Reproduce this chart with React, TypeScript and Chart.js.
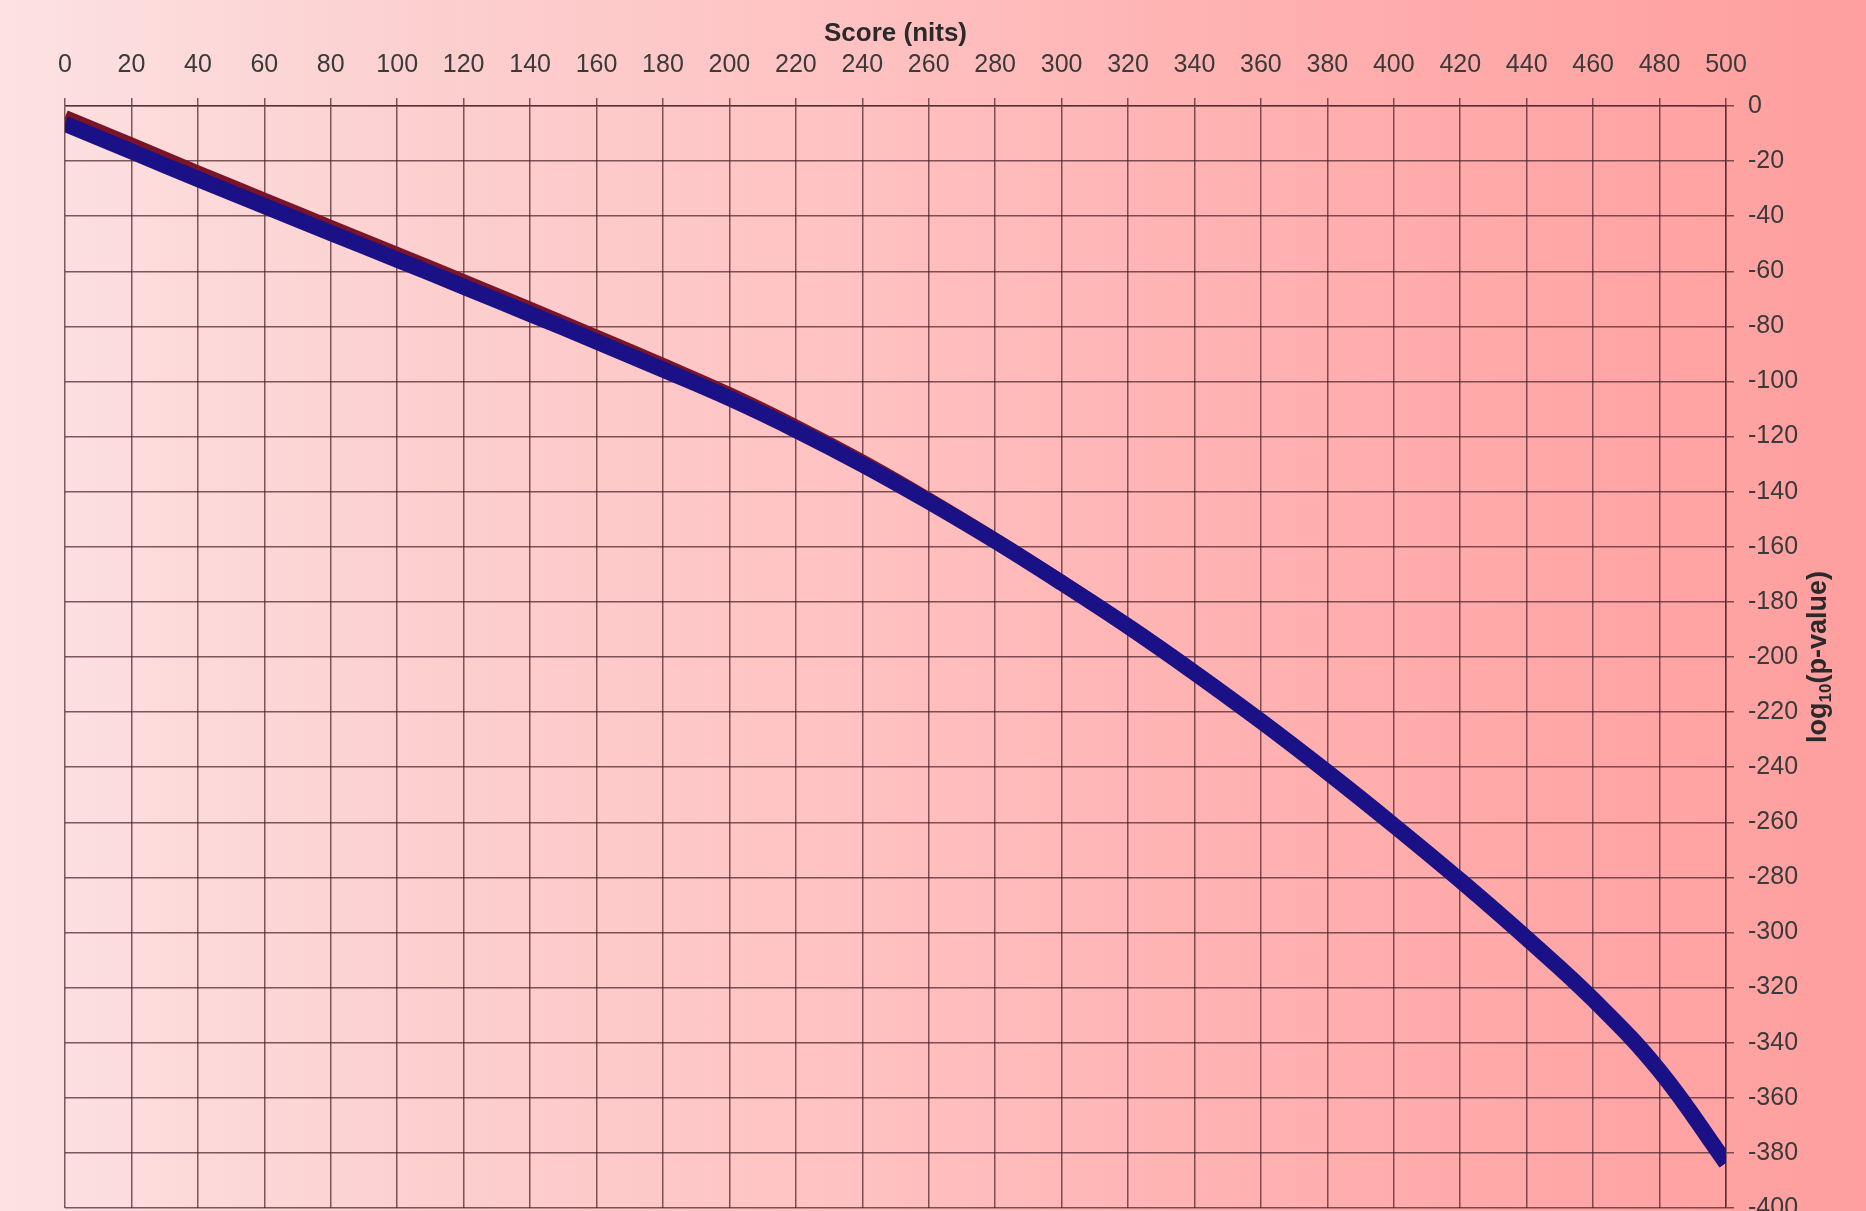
import React, { useEffect, useRef } from "react";
import { Chart, registerables } from "chart.js";

Chart.register(...registerables);

// Score (nits) sample positions
const scores = [0, 20, 40, 60, 80, 100, 120, 140, 160, 180, 200, 220, 240, 260, 280, 300, 320, 340, 360, 380, 400, 420, 440, 460, 480, 500];
// log10(p-value), blue series (lower edge of the band)
const blueValues = [-6.5, -16.5, -26.5, -36.3, -46.1, -55.8, -65.6, -75.5, -85.5, -95.7, -106.1, -117.6, -130.1, -143.6, -157.9, -173.1, -188.9, -205.7, -223.3, -241.8, -261.1, -281.1, -302.1, -324.3, -350.2, -383.6];
// log10(p-value), dark red series (slightly above the blue one)
const redValues = [-4.0, -14.0, -24.1, -34.0, -43.9, -53.7, -63.6, -73.6, -83.7, -94.0, -104.6, -116.3, -129.0, -142.8, -157.4, -172.7, -188.6, -205.5, -223.2, -241.8, -261.1, -281.1, -302.1, -324.3, -350.2, -383.6];

const xTitle = "Score (nits)";
const yTitleMain = "log";
const yTitleSub = "10";
const yTitleRest = "(p-value)";

const FONT = '"Liberation Sans", Arial, Helvetica, sans-serif';

const yTitlePlugin = {
  id: "yTitleLeftRotated",
  afterDraw(chart: any) {
    const ctx = chart.ctx as CanvasRenderingContext2D;
    const area = chart.chartArea;
    const cx = area.right + 91;
    const cy = (area.top + area.bottom) / 2;
    ctx.save();
    ctx.translate(cx, cy);
    ctx.rotate(-Math.PI / 2);
    ctx.fillStyle = "#2a2a2a";
    ctx.textBaseline = "alphabetic";
    const mainFont = `bold 27px ${FONT}`;
    const subFont = `bold 17px ${FONT}`;
    ctx.font = mainFont;
    const w1 = ctx.measureText(yTitleMain).width;
    const w3 = ctx.measureText(yTitleRest).width;
    ctx.font = subFont;
    const w2 = ctx.measureText(yTitleSub).width;
    const total = w1 + w2 + w3;
    let x = -total / 2;
    const base = 9;
    ctx.font = mainFont;
    ctx.fillText(yTitleMain, x, base);
    x += w1;
    ctx.font = subFont;
    ctx.fillText(yTitleSub, x, base + 5);
    x += w2;
    ctx.font = mainFont;
    ctx.fillText(yTitleRest, x, base);
    ctx.restore();
  },
};

export default function App() {
  const canvasRef = useRef<HTMLCanvasElement | null>(null);

  useEffect(() => {
    const canvas = canvasRef.current;
    if (!canvas) return;
    const gridColor = "rgba(75, 35, 40, 0.72)";
    const chart = new Chart(canvas, {
      type: "line",
      data: {
        datasets: [
          {
            label: "red",
            data: scores.map((s, i) => ({ x: s, y: redValues[i] })),
            borderColor: "#7a1428",
            borderWidth: 14,
            pointRadius: 0,
            tension: 0.4,
            fill: false,
            order: 2,
          },
          {
            label: "blue",
            data: scores.map((s, i) => ({ x: s, y: blueValues[i] })),
            borderColor: "#1b1186",
            borderWidth: 16,
            pointRadius: 0,
            tension: 0.4,
            fill: false,
            order: 1,
          },
        ],
      },
      options: {
        animation: false,
        responsive: false,
        maintainAspectRatio: false,
        layout: { padding: { left: 65, right: 0, top: 0, bottom: 3 } },
        plugins: {
          legend: { display: false },
          tooltip: { enabled: false },
        },
        scales: {
          x: {
            type: "linear",
            position: "top",
            min: 0,
            max: 500,
            ticks: {
              stepSize: 20,
              autoSkip: false,
              maxRotation: 0,
              padding: 18,
              color: "#3a3a3a",
              font: { family: FONT, size: 25 },
            },
            grid: { color: gridColor, lineWidth: 1.5, tickLength: 8, drawTicks: true },
            border: { color: gridColor, width: 1.5 },
            title: {
              display: true,
              text: xTitle,
              color: "#2a2a2a",
              font: { family: FONT, size: 26, weight: "bold" },
              padding: { top: 18.5, bottom: 0 },
            },
            afterFit(scale: any) {
              scale.height = 106;
              scale.paddingLeft = 0;
              scale.paddingRight = 0;
            },
          },
          y: {
            type: "linear",
            position: "right",
            min: -400,
            max: 0,
            ticks: {
              stepSize: 20,
              autoSkip: false,
              padding: 14,
              color: "#3a3a3a",
              font: { family: FONT, size: 25 },
            },
            grid: { color: gridColor, lineWidth: 1.5, tickLength: 8, drawTicks: true },
            border: { color: gridColor, width: 1.5 },
            afterFit(scale: any) {
              scale.width = 140;
              scale.paddingTop = 0;
              scale.paddingBottom = 0;
            },
          },
        },
      },
      plugins: [yTitlePlugin],
    } as any);
    return () => {
      chart.destroy();
    };
  }, []);

  return (
    <div
      style={{
        position: "fixed",
        left: 0,
        top: 0,
        width: 1866,
        height: 1211,
        overflow: "hidden",
        background:
          "linear-gradient(to right, #fde2e2 0%, #fcd0d0 22%, #ffc2c2 45%, #ffb2b2 65%, #ffa6a6 85%, #ff9f9f 100%)",
      }}
    >
      <canvas ref={canvasRef} width={1866} height={1211} style={{ display: "block" }} />
    </div>
  );
}
